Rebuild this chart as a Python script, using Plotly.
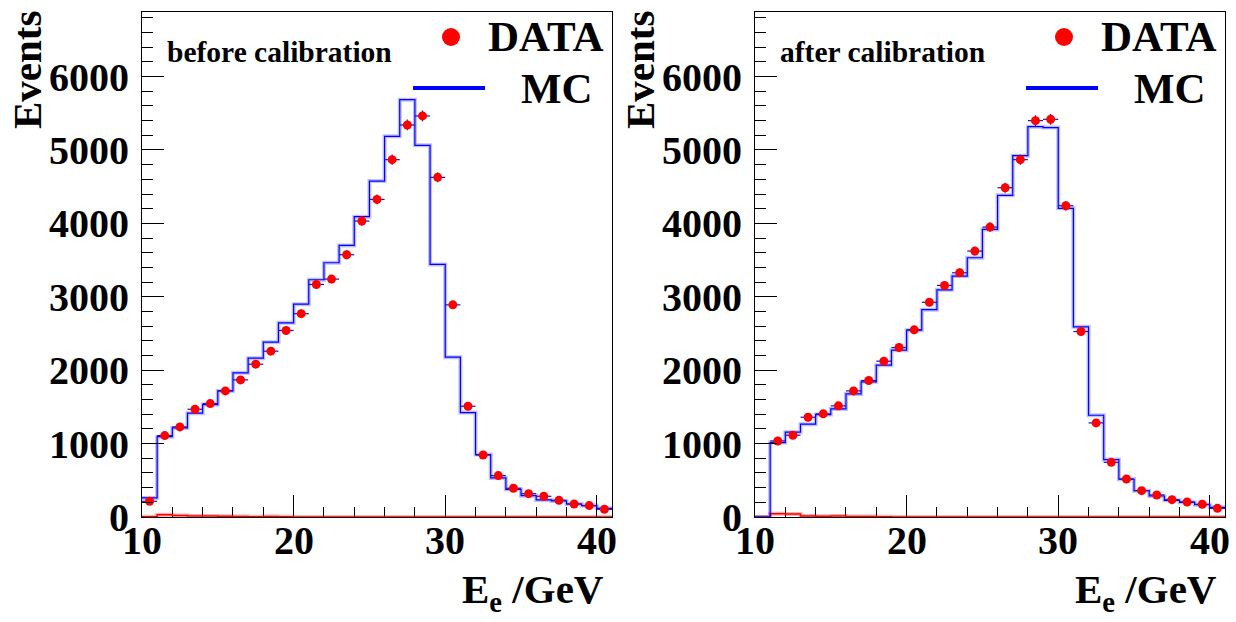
import math
import plotly.graph_objects as go
from plotly.subplots import make_subplots

W, H = 1236, 622

# ---------------- data ----------------
bin_low = list(range(10, 41))          # lower bin edges (1 GeV bins, 10..41)
x_max = 41

left_mc = [260, 1095, 1214, 1414, 1532, 1718, 1964, 2164, 2382, 2645, 2900,
           3232, 3464, 3700, 4091, 4577, 5186, 5686, 5064, 3441, 2177,
           1423, 850, 532, 377, 291, 232, 218, 177, 155, 118]
left_data = [214, 1109, 1227, 1468, 1545, 1718, 1868, 2082, 2259, 2541, 2770,
             3168, 3241, 3573, 4032, 4327, 4868, 5341, 5464, 4627, 2890,
             1509, 845, 564, 391, 318, 282, 227, 177, 155, 105]
left_bkg = [5, 32, 20, 12, 12, 10, 8, 4, 6, 4, 0,
            0, 0, 0, 0, 0, 0, 0, 0, 0, 0,
            0, 0, 0, 0, 0, 0, 0, 0, 0, 0]

right_mc = [0, 1014, 1155, 1264, 1395, 1473, 1677, 1841, 2068, 2273, 2545,
            2825, 3095, 3282, 3532, 3918, 4382, 4923, 5318, 5305, 4205,
            2591, 1386, 782, 514, 359, 286, 227, 200, 168, 132]
right_data = [None, 1036, 1114, 1359, 1405, 1514, 1718, 1859, 2123, 2309, 2550,
              2925, 3155, 3327, 3623, 3950, 4486, 4868, 5400, 5418, 4241,
              2527, 1282, 745, 518, 359, 300, 236, 205, 173, 118]
right_bkg = [0, 45, 40, 15, 10, 15, 8, 8, 2, 0, 0,
             0, 0, 0, 0, 0, 0, 0, 0, 0, 0,
             0, 0, 0, 0, 0, 0, 0, 0, 0, 0]

panel_labels = ["before calibration", "after calibration"]
x_ticks = [10, 20, 30, 40]
y_ticks = [0, 1000, 2000, 3000, 4000, 5000, 6000]
y_max = 6880

FONT = "'Liberation Serif', 'Times New Roman', serif"

fig = make_subplots(rows=1, cols=2)


def step_xy(vals):
    xs = bin_low + [x_max]
    ys = list(vals) + [vals[-1]]
    return xs, ys


def add_panel(col, mc, data, bkg):
    xs, ys = step_xy(bkg)
    fig.add_trace(go.Scatter(x=xs, y=ys, mode="lines", line_shape="hv",
                             line=dict(color="rgba(255,0,0,0.3)", width=4),
                             hoverinfo="skip", showlegend=False), row=1, col=col)
    fig.add_trace(go.Scatter(x=xs, y=ys, mode="lines", line_shape="hv",
                             line=dict(color="red", width=1.5),
                             showlegend=False), row=1, col=col)
    xs, ys = step_xy(mc)
    fig.add_trace(go.Scatter(x=xs, y=ys, mode="lines", line_shape="hv",
                             line=dict(color="rgba(0,0,255,0.25)", width=4),
                             hoverinfo="skip", showlegend=False), row=1, col=col)
    fig.add_trace(go.Scatter(x=xs, y=ys, mode="lines", line_shape="hv",
                             line=dict(color="#0000ff", width=1.2),
                             name="MC", showlegend=False), row=1, col=col)
    centers = [b + 0.5 for b in bin_low]
    errs = [math.sqrt(v) if v else 0 for v in data]
    fig.add_trace(go.Scatter(x=centers, y=data, mode="markers",
                             marker=dict(color="red", size=9),
                             error_x=dict(type="constant", value=0.5, width=0,
                                          color="#1515c0", thickness=1.2),
                             error_y=dict(type="data", array=errs, width=0,
                                          color="#1515c0", thickness=1.2),
                             name="DATA", showlegend=False), row=1, col=col)


add_panel(1, left_mc, left_data, left_bkg)
add_panel(2, right_mc, right_data, right_bkg)

tickfont = dict(family=FONT, size=40, color="black", weight="bold")

domains = [(142, 612), (755, 1225)]
for i, (x0, x1) in enumerate(domains):
    xa = "xaxis" if i == 0 else "xaxis2"
    ya = "yaxis" if i == 0 else "yaxis2"
    fig.layout[xa].update(
        domain=[x0 / W, x1 / W], range=[10, x_max], tickvals=x_ticks,
        ticks="inside", ticklen=22, tickwidth=1, tickcolor="black",
        minor=dict(dtick=2, ticklen=10, ticks="inside", tickcolor="black", tickwidth=1),
        showline=True, linecolor="black", linewidth=1, mirror=True,
        showgrid=False, zeroline=False, showticklabels=False, layer="below traces",
        automargin=False)
    fig.layout[ya].update(
        domain=[1 - 517 / H, 1 - 12 / H], range=[0, y_max], tickvals=y_ticks,
        ticks="inside", ticklen=22, tickwidth=1, tickcolor="black",
        minor=dict(dtick=200, ticklen=11, ticks="inside", tickcolor="black", tickwidth=1),
        showline=True, linecolor="black", linewidth=1, mirror=True,
        showgrid=False, zeroline=False, tickfont=tickfont,
        ticklabelstandoff=4, automargin=False)

annotations = []
shapes = []


def px(x):
    return x / W


def py(y):
    return 1 - y / H


for i, off in enumerate([0, 613]):
    xref = "x" if i == 0 else "x2"
    # x tick labels (placed close under the axis, as in the original)
    for t in x_ticks:
        annotations.append(dict(text=str(t), x=t, y=py(540), xref=xref, yref="paper",
                                showarrow=False, xanchor="center", yanchor="middle",
                                font=tickfont))
    # y title
    annotations.append(dict(text="Events", x=px(27 + off), y=py(70), xref="paper", yref="paper",
                            textangle=-90, showarrow=False, xanchor="center", yanchor="middle",
                            font=dict(family=FONT, size=41, color="black", weight="bold")))
    # x title
    annotations.append(dict(text="E<sub>e</sub> /GeV", x=px(606 + off), y=py(592), xref="paper",
                            yref="paper", showarrow=False, xanchor="right", yanchor="middle",
                            font=dict(family=FONT, size=41, color="black", weight="bold")))
    # panel label
    annotations.append(dict(text=panel_labels[i], x=px(165 + off), y=py(52), xref="paper",
                            yref="paper", showarrow=False, xanchor="left", yanchor="middle",
                            font=dict(family=FONT, size=29.5, color="black", weight="bold")))
    # legend
    annotations.append(dict(text="DATA", x=px(486 + off), y=py(37), xref="paper", yref="paper",
                            showarrow=False, xanchor="left", yanchor="middle",
                            font=dict(family=FONT, size=43, color="black", weight="bold")))
    annotations.append(dict(text="MC", x=px(519 + off), y=py(88), xref="paper", yref="paper",
                            showarrow=False, xanchor="left", yanchor="middle",
                            font=dict(family=FONT, size=43, color="black", weight="bold")))
    shapes.append(dict(type="circle", xref="paper", yref="paper",
                       x0=px(442 + off), x1=px(460 + off), y0=py(46), y1=py(28),
                       fillcolor="red", line=dict(width=0)))
    shapes.append(dict(type="line", xref="paper", yref="paper",
                       x0=px(413 + off), x1=px(485 + off), y0=py(88), y1=py(88),
                       line=dict(color="#0000ff", width=4)))

fig.update_layout(width=W, height=H, margin=dict(l=0, r=0, t=0, b=0, autoexpand=False),
                  plot_bgcolor="white", paper_bgcolor="white",
                  annotations=annotations, shapes=shapes, showlegend=False)

fig.write_html("out.html")
